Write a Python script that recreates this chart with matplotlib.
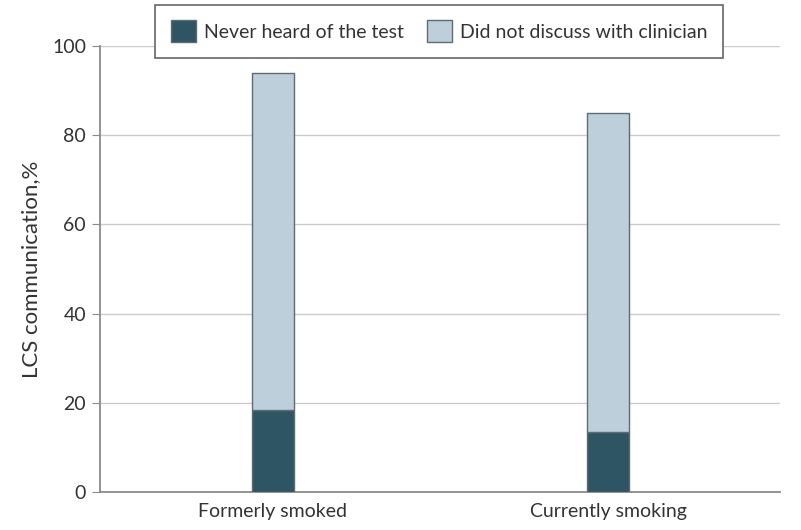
import matplotlib.pyplot as plt
import numpy as np

categories = ["Formerly smoked", "Currently smoking"]
never_heard = [18.4, 13.5]
did_not_discuss = [75.5, 71.5]

plt.rcParams['font.family'] = ['Lato', 'DejaVu Sans']

fig = plt.figure(figsize=(8.01, 5.30), dpi=100)
ax = fig.add_axes([0.1248, 0.0717, 0.849, 0.8413])

x = np.arange(len(categories))
w = 0.125
edge = "#5f6b70"
ax.bar(x, never_heard, w, color="#2e5563", edgecolor=edge, linewidth=1,
       label="Never heard of the test", zorder=3)
ax.bar(x, did_not_discuss, w, bottom=never_heard, color="#bccfda", edgecolor=edge,
       linewidth=1, label="Did not discuss with clinician", zorder=3)

ax.set_xlim(-0.516, 1.513)
ax.set_ylim(0, 100)
ax.set_yticks([0, 20, 40, 60, 80, 100])
ax.set_xticks(x)
ax.set_xticklabels(categories)
ax.yaxis.grid(True, color="#cccccc", linewidth=1, zorder=0)
ax.set_axisbelow(True)

for s in ["top", "right"]:
    ax.spines[s].set_visible(False)
for s in ["left", "bottom"]:
    ax.spines[s].set_color("#8a8a8a")
    ax.spines[s].set_linewidth(1.3)

ax.tick_params(axis="y", length=6, color="#8a8a8a", labelsize=14, labelcolor="#333333", pad=4)
ax.tick_params(axis="x", length=0, labelsize=14, labelcolor="#333333", pad=8)
ax.set_ylabel("LCS communication,%", fontsize=16, color="#333333", labelpad=8)

leg = ax.legend(loc="center", bbox_to_anchor=(0.196, 0.887, 0.705, 0.1075),
                bbox_transform=fig.transFigure, ncol=2, fontsize=14, frameon=True,
                fancybox=False, edgecolor="#666666", handlelength=1.3, handleheight=1.35,
                columnspacing=1.2, handletextpad=0.4, borderpad=0.8, borderaxespad=0,
                framealpha=1)
leg.get_frame().set_linewidth(1.2)
for t in leg.get_texts():
    t.set_color("#333333")

fig.savefig("out.png", dpi=100)
